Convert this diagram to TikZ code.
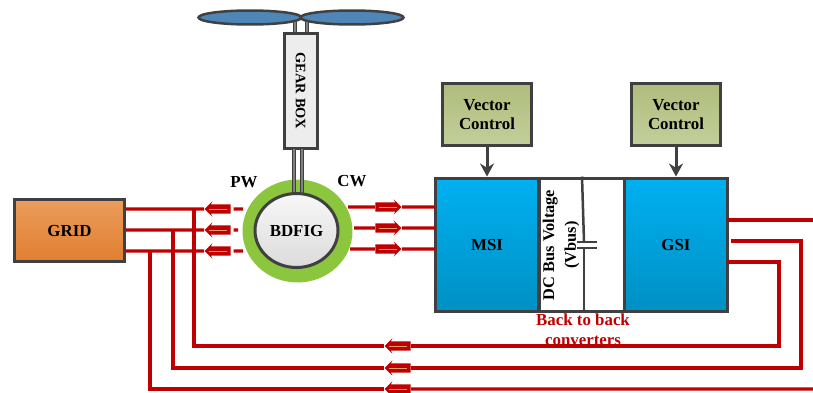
\documentclass[tikz,border=0pt]{standalone}
\usepackage{fontspec}
\setmainfont{Liberation Serif}
\usetikzlibrary{shapes.geometric,shapes.arrows,arrows.meta}
\definecolor{darkline}{HTML}{404040}
\definecolor{wirered}{HTML}{C00000}
\definecolor{flowcore}{HTML}{D8A070}
\definecolor{gridtop}{HTML}{EB9C5C}
\definecolor{gridbot}{HTML}{E07F30}
\definecolor{ctrltop}{HTML}{AFBC7C}
\definecolor{ctrlbot}{HTML}{C3CF9B}
\definecolor{convtop}{HTML}{00B0F0}
\definecolor{convbot}{HTML}{0090C4}
\definecolor{bladeblue}{HTML}{4F86B8}
\definecolor{ringgreen}{HTML}{8CC63F}
\begin{document}
\begin{tikzpicture}[
    x=0.02cm, y=-0.02cm,
    txt/.style={font=\fontsize{9.6}{10.9}\selectfont\bfseries, text=black},
    panel/.style={draw=darkline, line width=0.06cm, txt, align=center},
    gridbox/.style={panel, minimum width=2.22cm, minimum height=1.24cm, top color=gridtop, bottom color=gridbot},
    ctrlbox/.style={panel, minimum width=1.78cm, minimum height=1.26cm, top color=ctrltop, bottom color=ctrlbot},
    convbox/.style={panel, minimum width=2.06cm, minimum height=2.68cm, top color=convtop, bottom color=convbot},
    blade/.style={ellipse, draw=darkline, line width=0.05cm, fill=bladeblue, minimum width=2.06cm, minimum height=0.28cm, inner sep=0pt},
    wire/.style={draw=wirered, line width=0.065cm},
    shaft/.style={draw=darkline, line width=0.025cm, double=black!50, double distance=0.03cm},
    busline/.style={draw=darkline, line width=0.05cm},
    plate/.style={fill=darkline, minimum width=0.4cm, minimum height=0.035cm, inner sep=0pt},
    ctrlarrow/.style={draw=darkline, line width=0.06cm, -{Stealth[length=0.26cm,width=0.28cm]}},
    flowmark/.style={single arrow, fill=wirered, minimum height=0.52cm, text height=0.17cm, text depth=0pt, inner sep=0pt,
      single arrow head extend=0.06cm, single arrow head indent=0.03cm,
      path picture={\draw[flowcore, line width=0.012cm] ([xshift=0.08cm]path picture bounding box.west) -- ([xshift=-0.08cm]path picture bounding box.east);}},
    flowleft/.style={flowmark, shape border rotate=180},
    tag/.style={txt, inner sep=0pt}
  ]
    \useasboundingbox (0,0) rectangle (813,392);

    % turbine
    \node[blade] (bladeL) at (250,17.5) {};
    \node[blade] (bladeR) at (352,17.5) {};
    \node[panel, rotate=-90, minimum width=2.3cm, minimum height=0.66cm, inner sep=0pt, fill=black!7, font=\fontsize{8.2}{10}\selectfont\bfseries] (gear) at (300.5,91) {GEAR BOX};
    \coordinate (hubA) at (295,22);
    \coordinate (hubB) at (307,22);
    \coordinate (gearA) at (295,32);
    \coordinate (gearB) at (307,32);
    \draw[shaft] (hubA) -- (gearA);
    \draw[shaft] (hubB) -- (gearB);

    % machine
    \node[ellipse, fill=ringgreen, minimum width=2.2cm, minimum height=2.06cm, inner sep=0pt] (ring) at (297.5,231) {};
    \coordinate (gearC) at (294,149);
    \coordinate (gearD) at (302,149);
    \coordinate (genC) at (294,194);
    \coordinate (genD) at (302,194);
    \draw[shaft] (gearC) -- (genC);
    \draw[shaft] (gearD) -- (genD);
    \node[ellipse, draw=darkline, line width=0.06cm, top color=black!3, bottom color=black!14, minimum width=1.66cm, minimum height=1.48cm, inner sep=0pt, txt] (gen) at (296.5,230.5) {BDFIG};
    \node[tag] (pw) at (244,182) {PW};
    \node[tag] (cw) at (352,181) {CW};

    % grid side
    \node[gridbox] (grid) at (69.5,230.5) {GRID};
    \coordinate (g1) at (126,209);
    \coordinate (g2) at (126,230);
    \coordinate (g3) at (126,251);
    \node[flowleft] (pw1) at (220,209) {};
    \node[flowleft] (pw2) at (220,230) {};
    \node[flowleft] (pw3) at (220,251) {};
    \coordinate (d1) at (243,209);
    \coordinate (d2) at (238,230);
    \coordinate (d3) at (243,251);
    \draw[wire] (g1) -- (pw1);
    \draw[wire] (g2) -- (pw2);
    \draw[wire] (g3) -- (pw3);
    \draw[wire, shorten <=0.05cm] (pw1) -- (d1);
    \draw[wire, shorten <=0.05cm] (pw2) -- (d2);
    \draw[wire, shorten <=0.05cm] (pw3) -- (d3);

    % converters
    \node[panel, minimum width=1.72cm, minimum height=2.68cm, fill=white] (dc) at (582,245) {};
    \node[convbox] (msi) at (487,245) {MSI};
    \node[convbox] (gsi) at (676,245) {GSI};
    \node[ctrlbox] (vc1) at (487,114.5) {Vector\\Control};
    \node[ctrlbox] (vc2) at (676,114.5) {Vector\\Control};
    \draw[ctrlarrow] (vc1) -- (msi);
    \draw[ctrlarrow] (vc2) -- (gsi);
    \coordinate (capA) at (584,242);
    \coordinate (capB) at (584,248);
    \coordinate (capC) at (584,313);
    \draw[busline] (dc.north) -- (capA);
    \draw[busline] (capB) -- (capC);
    \node[plate] (plateA) at (587,242) {};
    \node[plate] (plateB) at (587,248) {};
    \node[txt, rotate=90, align=center, font=\fontsize{9.3}{12.4}\selectfont\bfseries, inner sep=0pt] (vbus) at (561,245) {DC Bus Voltage\\(Vbus)};
    \node[txt, text=wirered, align=center, font=\fontsize{9.6}{11.3}\selectfont\bfseries, inner sep=0pt] (b2b) at (583,330) {Back to back\\converters};

    % machine side
    \coordinate (c1) at (348,207);
    \coordinate (c2) at (354,228);
    \coordinate (c3) at (350,249);
    \coordinate (m1) at (435,207);
    \coordinate (m2) at (435,228);
    \coordinate (m3) at (435,249);
    \node[flowmark] (cw1) at (386,207) {};
    \node[flowmark] (cw2) at (386,228) {};
    \node[flowmark] (cw3) at (386,249) {};
    \draw[wire] (c1) -- (cw1);
    \draw[wire] (c2) -- (cw2);
    \draw[wire] (c3) -- (cw3);
    \draw[wire] (cw1) -- (m1);
    \draw[wire] (cw2) -- (m2);
    \draw[wire] (cw3) -- (m3);

    % return lines
    \coordinate (v1) at (194,209);
    \coordinate (v2) at (173,230);
    \coordinate (v3) at (150,251);
    \node[flowleft] (back1) at (400,346) {};
    \node[flowleft] (back2) at (400,368) {};
    \node[flowleft] (back3) at (400,389) {};
    \coordinate (t1) at (779,262);
    \coordinate (t2) at (801,241);
    \coordinate (s1) at (727,262);
    \coordinate (s2) at (731,241);
    \coordinate (s3) at (727,220);
    \coordinate (e1) at (813,220);
    \coordinate (e3) at (813,389);
    \draw[wire] (v1) |- (back1);
    \draw[wire] (v2) |- (back2);
    \draw[wire] (v3) |- (back3);
    \draw[wire] (back1) -| (t1) -- (s1);
    \draw[wire] (back2) -| (t2) -- (s2);
    \draw[wire] (back3) -- (e3);
    \draw[wire] (s3) -- (e1);
  \end{tikzpicture}
\end{document}
